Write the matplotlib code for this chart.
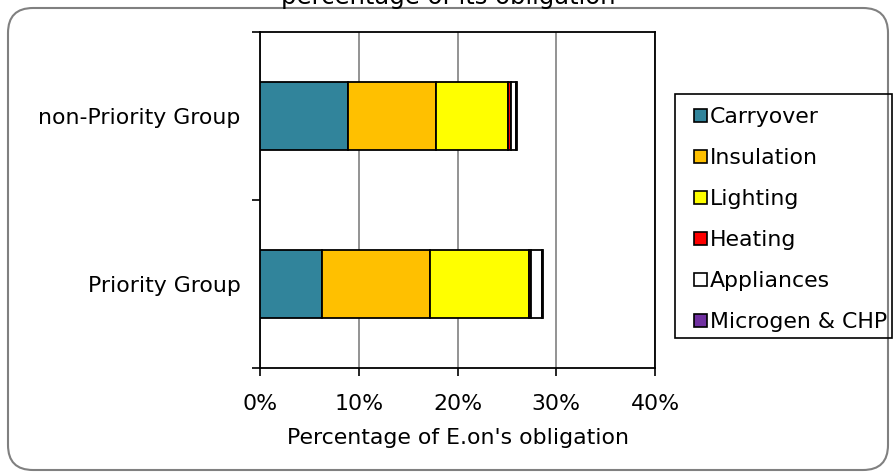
import matplotlib
matplotlib.use("Agg")
import matplotlib.pyplot as plt
import matplotlib.patches as mpatches
from matplotlib.legend_handler import HandlerPatch
import numpy as np

groups = ["Priority Group", "non-Priority Group"]
measures = ["Carryover", "Insulation", "Lighting", "Heating", "Appliances", "Microgen & CHP"]
colours = ["#31849B", "#FFC000", "#FFFF00", "#FF0000", "#FFFFFF", "#7030A0"]

# percentage of obligation, one list per measure: [Priority, non-Priority]
carryover = [6.3, 8.9]
insulation = [10.9, 8.9]
lighting = [10.0, 7.3]
heating = [0.2, 0.3]
appliances = [1.2, 0.5]
microgen = [0.1, 0.1]
series = [carryover, insulation, lighting, heating, appliances, microgen]

xticks = [0, 10, 20, 30, 40]

FS = 15.8
plt.rcParams["font.family"] = ["DejaVu Sans"]
W, H = 896, 476
fig = plt.figure(figsize=(W / 100, H / 100), dpi=100)

# rounded chart border
border = mpatches.FancyBboxPatch((8, 6), 880, 462,
                                 boxstyle="round,pad=0,rounding_size=25",
                                 transform=None, facecolor="none",
                                 edgecolor="#808080", linewidth=1.5)
fig.patches.append(border)

ax = fig.add_axes([260 / W, 1 - 368 / H, 395 / W, 336 / H])

ypos = np.array([0.5, 1.5])
left = np.zeros(len(groups))
for name, vals, col in zip(measures, series, colours):
    ax.barh(ypos, vals, left=left, height=0.4, color=col,
            edgecolor="black", linewidth=1.3, label=name, zorder=3)
    left += np.array(vals)

ax.set_xlim(0, 40)
ax.set_ylim(0, 2)
ax.set_xticks(xticks)
ax.set_xticklabels([f"{v}%" for v in xticks], fontsize=FS)
ax.set_yticks([0, 1, 2])
ax.set_yticklabels([])
ax.set_yticks(ypos, minor=True)
ax.set_yticklabels(groups, minor=True, fontsize=FS)
ax.tick_params(axis="y", which="minor", length=0, pad=14)
ax.tick_params(axis="y", which="major", length=6, width=1.2, direction="out")
ax.tick_params(axis="x", length=6, width=1.2, direction="out", pad=13)
ax.xaxis.grid(True, color="#808080", linewidth=1.2, zorder=0)
for s in ax.spines.values():
    s.set_linewidth(1.3)
ax.set_xlabel("Percentage of E.on's obligation", fontsize=FS, labelpad=10)


# small square key sitting at the right of the handle box
def square_key(legend, orig_handle, xdescent, ydescent, width, height, fontsize):
    return mpatches.Rectangle((width - height - xdescent, -ydescent), height, height)


handles = [mpatches.Patch(facecolor=c, edgecolor="black", linewidth=1.2, label=m)
           for m, c in zip(measures, colours)]
leg = fig.legend(handles=handles, loc="upper left",
                 bbox_to_anchor=(675 / W, 1 - 96 / H), fontsize=FS,
                 frameon=False,
                 handler_map={mpatches.Patch: HandlerPatch(patch_func=square_key)},
                 handlelength=0.95, handleheight=0.55, handletextpad=0.15,
                 labelspacing=0.96, borderpad=0.5, borderaxespad=0)

# legend frame, tight on the right like the chart's own box
frame = mpatches.Rectangle((675, H - 338), 217, 244, transform=None,
                           facecolor="none", edgecolor="black", linewidth=1.2)
fig.patches.append(frame)

fig.text(0.5, 1 - 4 / H, "percentage of its obligation", ha="center",
         va="baseline", fontsize=17.5)

fig.savefig("out.png", dpi=100, facecolor="white")
